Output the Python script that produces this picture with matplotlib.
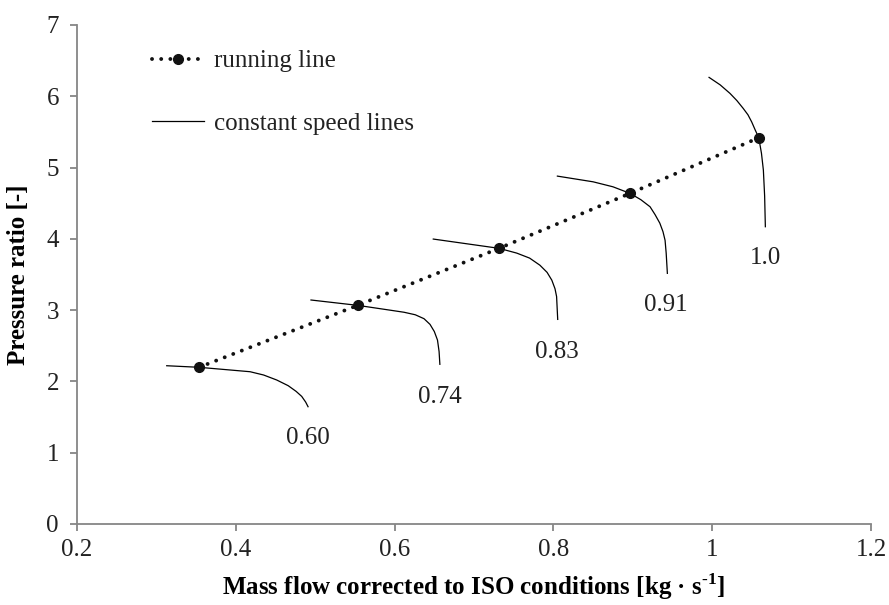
import matplotlib
matplotlib.use("Agg")
import matplotlib.pyplot as plt

plt.rcParams['font.family'] = ['Liberation Serif', 'DejaVu Serif']
plt.rcParams['mathtext.fontset'] = 'custom'
plt.rcParams['mathtext.rm'] = 'Liberation Serif'
plt.rcParams['mathtext.bf'] = 'Liberation Serif:bold'

# running line (operating points)
run_x = [0.3537, 0.5535, 0.7315, 0.8965, 1.0586]
run_y = [2.198, 3.067, 3.867, 4.638, 5.418]

# constant speed lines
speed_labels = ["0.60", "0.74", "0.83", "0.91", "1.0"]
speed_x = [
    [0.313, 0.3537, 0.418, 0.435, 0.4515, 0.466, 0.476, 0.483, 0.488, 0.491],
    [0.4947, 0.5535, 0.594, 0.612, 0.626, 0.637, 0.6446, 0.650, 0.654, 0.656, 0.657],
    [0.6487, 0.7315, 0.7538, 0.770, 0.783, 0.792, 0.798, 0.802, 0.804, 0.8054],
    [0.805, 0.850, 0.875, 0.8965, 0.910, 0.9217, 0.928, 0.934, 0.938, 0.9406, 0.942, 0.9435],
    [0.996, 1.010, 1.0224, 1.031, 1.039, 1.045, 1.0497, 1.054, 1.0586, 1.062, 1.0644, 1.066, 1.0669],
]
speed_y = [
    [2.22, 2.198, 2.136, 2.09, 2.02, 1.94, 1.86, 1.79, 1.71, 1.645],
    [3.142, 3.067, 3.0, 2.97, 2.935, 2.88, 2.80, 2.70, 2.58, 2.42, 2.24],
    [3.997, 3.867, 3.80, 3.73, 3.63, 3.53, 3.42, 3.30, 3.19, 2.87],
    [4.88, 4.80, 4.73, 4.638, 4.55, 4.45, 4.34, 4.22, 4.10, 3.98, 3.80, 3.516],
    [6.265, 6.16, 6.04, 5.94, 5.83, 5.74, 5.64, 5.53, 5.418, 5.20, 4.965, 4.60, 4.17],
]
# where the speed labels sit
label_x = [0.491, 0.657, 0.804, 0.942, 1.067]
label_y = [1.20, 1.785, 2.417, 3.07, 3.727]

fig = plt.figure(figsize=(8.89, 6.05), dpi=100)
ax = fig.add_axes([0.0866, 0.1339, 0.8932, 0.8248])

for i in range(len(speed_x)):
    ax.plot(speed_x[i], speed_y[i], color='black', lw=0.9,
            label='constant speed lines' if i == 0 else None, zorder=2)
    ax.text(label_x[i], label_y[i], speed_labels[i], fontsize=18,
            ha='center', va='center', color='#222222')

ax.plot(run_x, run_y, color='#111111', lw=2.8, linestyle=(0, (0.01, 2.35)),
        dash_capstyle='round', marker='o', markersize=7,
        label='running line', zorder=3)

ax.set_xlim(0.2, 1.2)
ax.set_ylim(0, 7)
ax.set_xticks([0.2, 0.4, 0.6, 0.8, 1.0, 1.2])
ax.set_xticklabels(['0.2', '0.4', '0.6', '0.8', '1', '1.2'])
ax.set_yticks(range(8))

gray = '#868686'
for s in ['top', 'right']:
    ax.spines[s].set_visible(False)
for s in ['left', 'bottom']:
    ax.spines[s].set_color(gray)
    ax.spines[s].set_linewidth(1.3)
ax.tick_params(axis='both', colors=gray, labelcolor='#222222', labelsize=18,
               length=5, width=1.3, direction='out')
ax.tick_params(axis='y', pad=8)
ax.tick_params(axis='x', pad=6)

ax.set_xlabel('Mass flow corrected to ISO conditions [kg \u00b7 s$^{\\mathbf{\u2010}\\mathbf{1}}$]',
              fontsize=18, fontweight='bold', labelpad=7)
ax.set_ylabel('Pressure ratio [-]', fontsize=18, fontweight='bold', labelpad=12)

handles, labels = ax.get_legend_handles_labels()
leg = ax.legend(handles[::-1], labels[::-1], loc='upper left',
                bbox_to_anchor=(0.094, 0.95), frameon=False, fontsize=18,
                handlelength=2.1, handletextpad=0.4, labelspacing=1.6,
                borderpad=0, borderaxespad=0, numpoints=1)
for t in leg.get_texts():
    t.set_color('#222222')

fig.savefig('out.png', dpi=100)
